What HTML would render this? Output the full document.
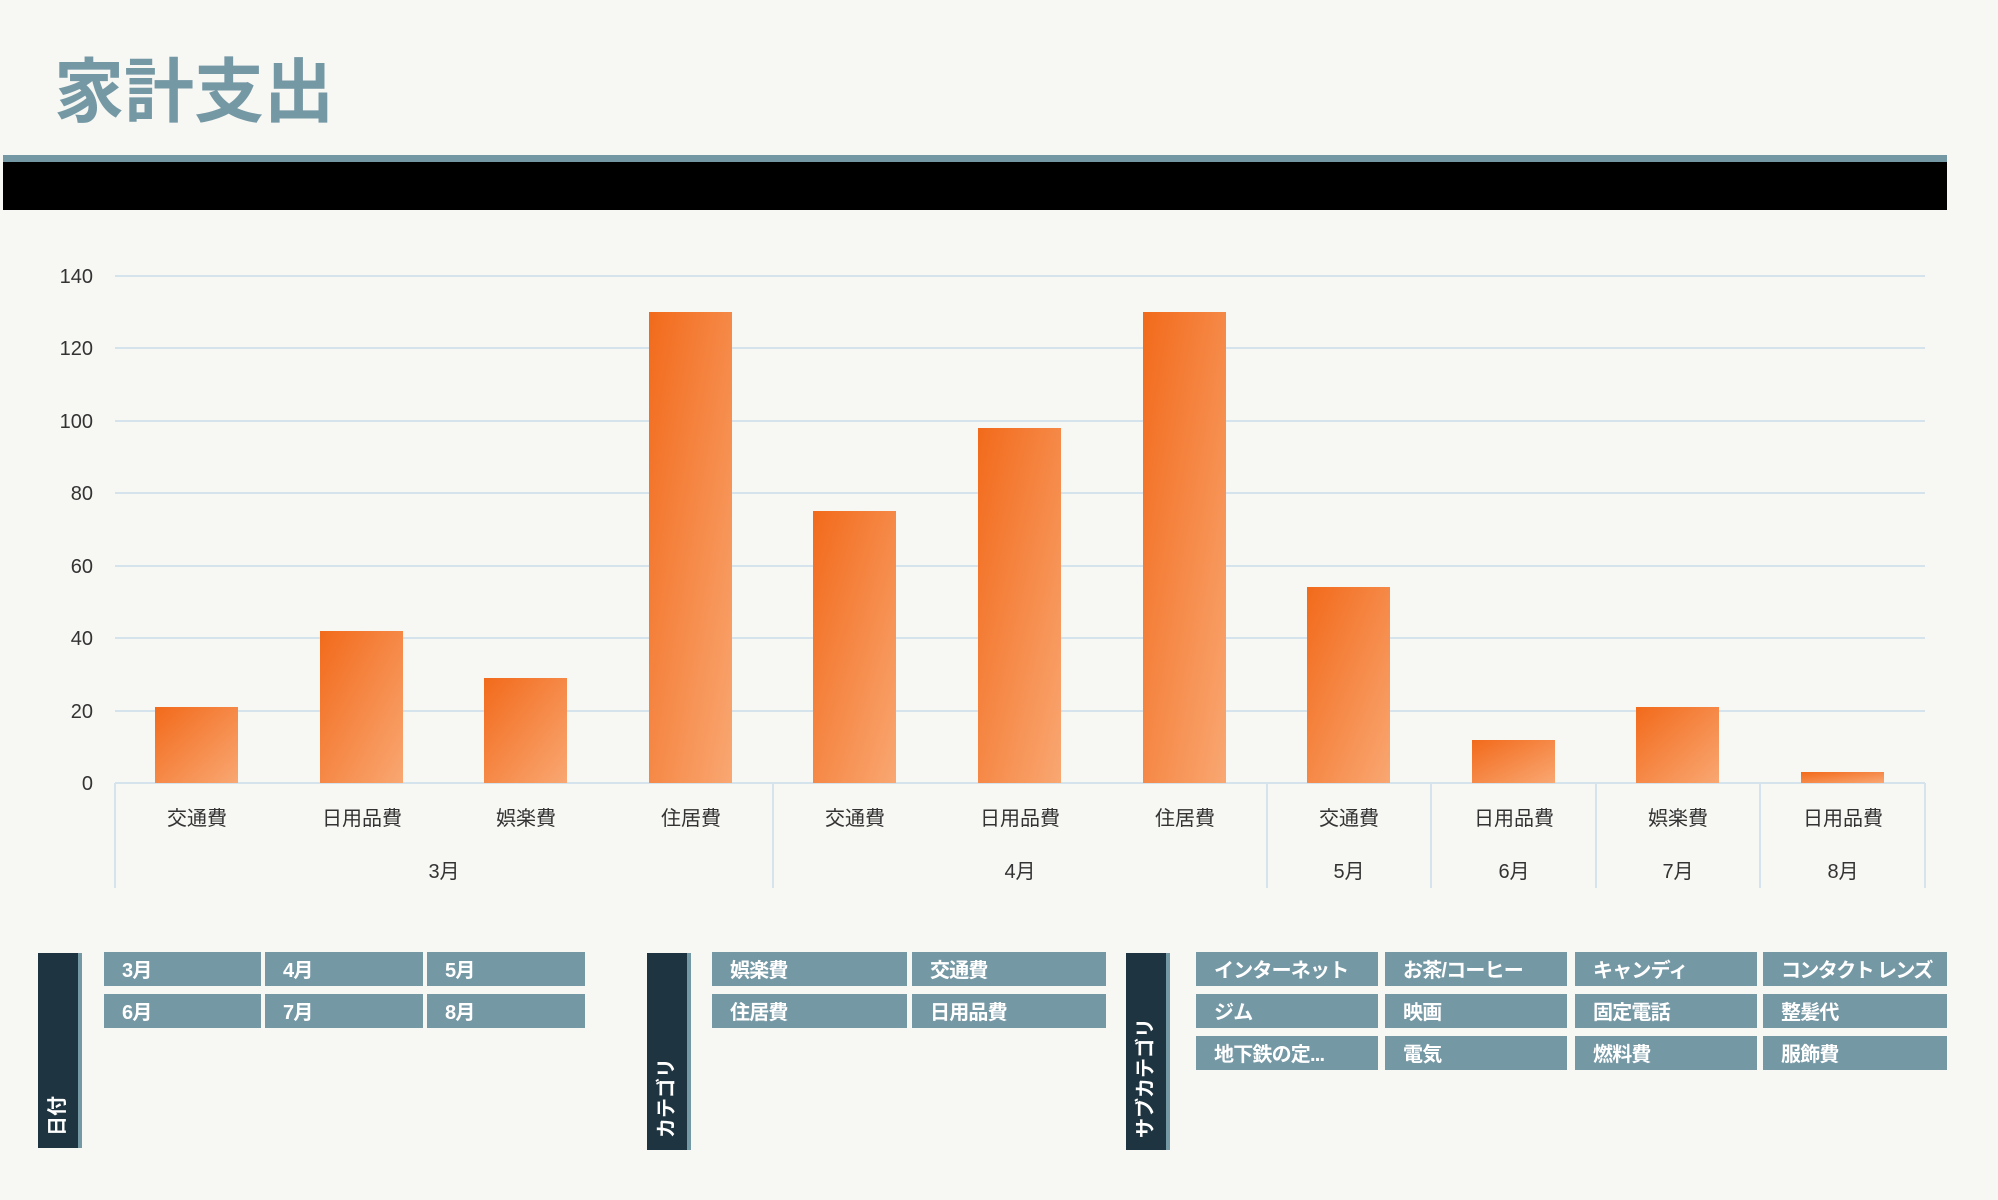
<!DOCTYPE html>
<html><head><meta charset="utf-8"><style>
body{margin:0;width:1998px;height:1200px;background:#f7f7f3;position:relative;overflow:hidden;font-family:"Liberation Sans","Noto Sans CJK JP",sans-serif}
.a{position:absolute}
.b{position:absolute;background:#7598a5;color:#fff;font-weight:bold;font-size:20px;letter-spacing:-0.8px;line-height:38px;padding-left:18px;box-sizing:border-box;height:34px;white-space:nowrap;overflow:hidden}
.h{position:absolute;background:#1e3440;border-right:4px solid #7598a5;box-sizing:border-box}
.h span{position:absolute;left:50%;bottom:12px;transform-origin:left bottom;transform:rotate(-90deg) translate(0,50%);color:#fff;font-weight:bold;font-size:20px;white-space:nowrap;line-height:1}
</style></head><body>
<div class="a" style="left:54px;top:50px;font-size:70px;font-weight:bold;color:#7598a5;line-height:84px">家計支出</div>
<div class="a" style="left:3px;top:155px;width:1944px;height:7px;background:#7598a5"></div>
<div class="a" style="left:3px;top:162px;width:1944px;height:48px;background:#000"></div>
<svg class="a" style="left:0;top:0" width="1998" height="1200">
<defs><linearGradient id="g" x1="0" y1="0" x2="1" y2="1"><stop offset="0" stop-color="#f26a1b"/><stop offset="1" stop-color="#f9a772"/></linearGradient></defs>
<g stroke="#d5e3ec" stroke-width="2">
<line x1="115" y1="276" x2="1925" y2="276"/><line x1="115" y1="348" x2="1925" y2="348"/><line x1="115" y1="421" x2="1925" y2="421"/><line x1="115" y1="493" x2="1925" y2="493"/><line x1="115" y1="566" x2="1925" y2="566"/><line x1="115" y1="638" x2="1925" y2="638"/><line x1="115" y1="711" x2="1925" y2="711"/><line x1="115" y1="783" x2="1925" y2="783"/>
<line x1="115" y1="783" x2="115" y2="888"/><line x1="773" y1="783" x2="773" y2="888"/><line x1="1267" y1="783" x2="1267" y2="888"/><line x1="1431" y1="783" x2="1431" y2="888"/><line x1="1596" y1="783" x2="1596" y2="888"/><line x1="1760" y1="783" x2="1760" y2="888"/><line x1="1925" y1="783" x2="1925" y2="888"/>
</g>
<g font-size="20" fill="#333" text-anchor="end" font-family="Liberation Sans, Noto Sans CJK JP, sans-serif">
<text x="93" y="283">140</text><text x="93" y="355">120</text><text x="93" y="428">100</text><text x="93" y="500">80</text><text x="93" y="573">60</text><text x="93" y="645">40</text><text x="93" y="718">20</text><text x="93" y="790">0</text>
</g>
<g fill="url(#g)">
<rect x="155" y="707" width="83" height="76"/><rect x="320" y="631" width="83" height="152"/><rect x="484" y="678" width="83" height="105"/><rect x="649" y="312" width="83" height="471"/><rect x="813" y="511" width="83" height="272"/><rect x="978" y="428" width="83" height="355"/><rect x="1143" y="312" width="83" height="471"/><rect x="1307" y="587" width="83" height="196"/><rect x="1472" y="740" width="83" height="43"/><rect x="1636" y="707" width="83" height="76"/><rect x="1801" y="772" width="83" height="11"/>
</g>
<g font-size="20" fill="#333" text-anchor="middle" font-family="Liberation Sans, Noto Sans CJK JP, sans-serif">
<text x="197" y="825">交通費</text><text x="362" y="825">日用品費</text><text x="526" y="825">娯楽費</text><text x="691" y="825">住居費</text><text x="855" y="825">交通費</text><text x="1020" y="825">日用品費</text><text x="1185" y="825">住居費</text><text x="1349" y="825">交通費</text><text x="1514" y="825">日用品費</text><text x="1678" y="825">娯楽費</text><text x="1843" y="825">日用品費</text>
<text x="444" y="878">3月</text><text x="1020" y="878">4月</text><text x="1349" y="878">5月</text><text x="1514" y="878">6月</text><text x="1678" y="878">7月</text><text x="1843" y="878">8月</text>
</g>
</svg>
<div class="h" style="left:38px;top:953px;width:44px;height:195px"><span>日付</span></div>
<div class="b" style="left:104px;top:952px;width:157px">3月</div><div class="b" style="left:265px;top:952px;width:158px">4月</div><div class="b" style="left:427px;top:952px;width:158px">5月</div>
<div class="b" style="left:104px;top:994px;width:157px">6月</div><div class="b" style="left:265px;top:994px;width:158px">7月</div><div class="b" style="left:427px;top:994px;width:158px">8月</div>
<div class="h" style="left:647px;top:953px;width:44px;height:197px"><span>カテゴリ</span></div>
<div class="b" style="left:712px;top:952px;width:195px">娯楽費</div><div class="b" style="left:912px;top:952px;width:194px">交通費</div>
<div class="b" style="left:712px;top:994px;width:195px">住居費</div><div class="b" style="left:912px;top:994px;width:194px">日用品費</div>
<div class="h" style="left:1126px;top:953px;width:44px;height:197px"><span>サブカテゴリ</span></div>
<div class="b" style="left:1196px;top:952px;width:182px">インターネット</div><div class="b" style="left:1385px;top:952px;width:182px">お茶/コーヒー</div><div class="b" style="left:1575px;top:952px;width:182px">キャンディ</div><div class="b" style="left:1763px;top:952px;width:184px;letter-spacing:-1.6px">コンタクト レンズ</div>
<div class="b" style="left:1196px;top:994px;width:182px">ジム</div><div class="b" style="left:1385px;top:994px;width:182px">映画</div><div class="b" style="left:1575px;top:994px;width:182px">固定電話</div><div class="b" style="left:1763px;top:994px;width:184px">整髪代</div>
<div class="b" style="left:1196px;top:1036px;width:182px">地下鉄の定...</div><div class="b" style="left:1385px;top:1036px;width:182px">電気</div><div class="b" style="left:1575px;top:1036px;width:182px">燃料費</div><div class="b" style="left:1763px;top:1036px;width:184px">服飾費</div>
</body></html>
